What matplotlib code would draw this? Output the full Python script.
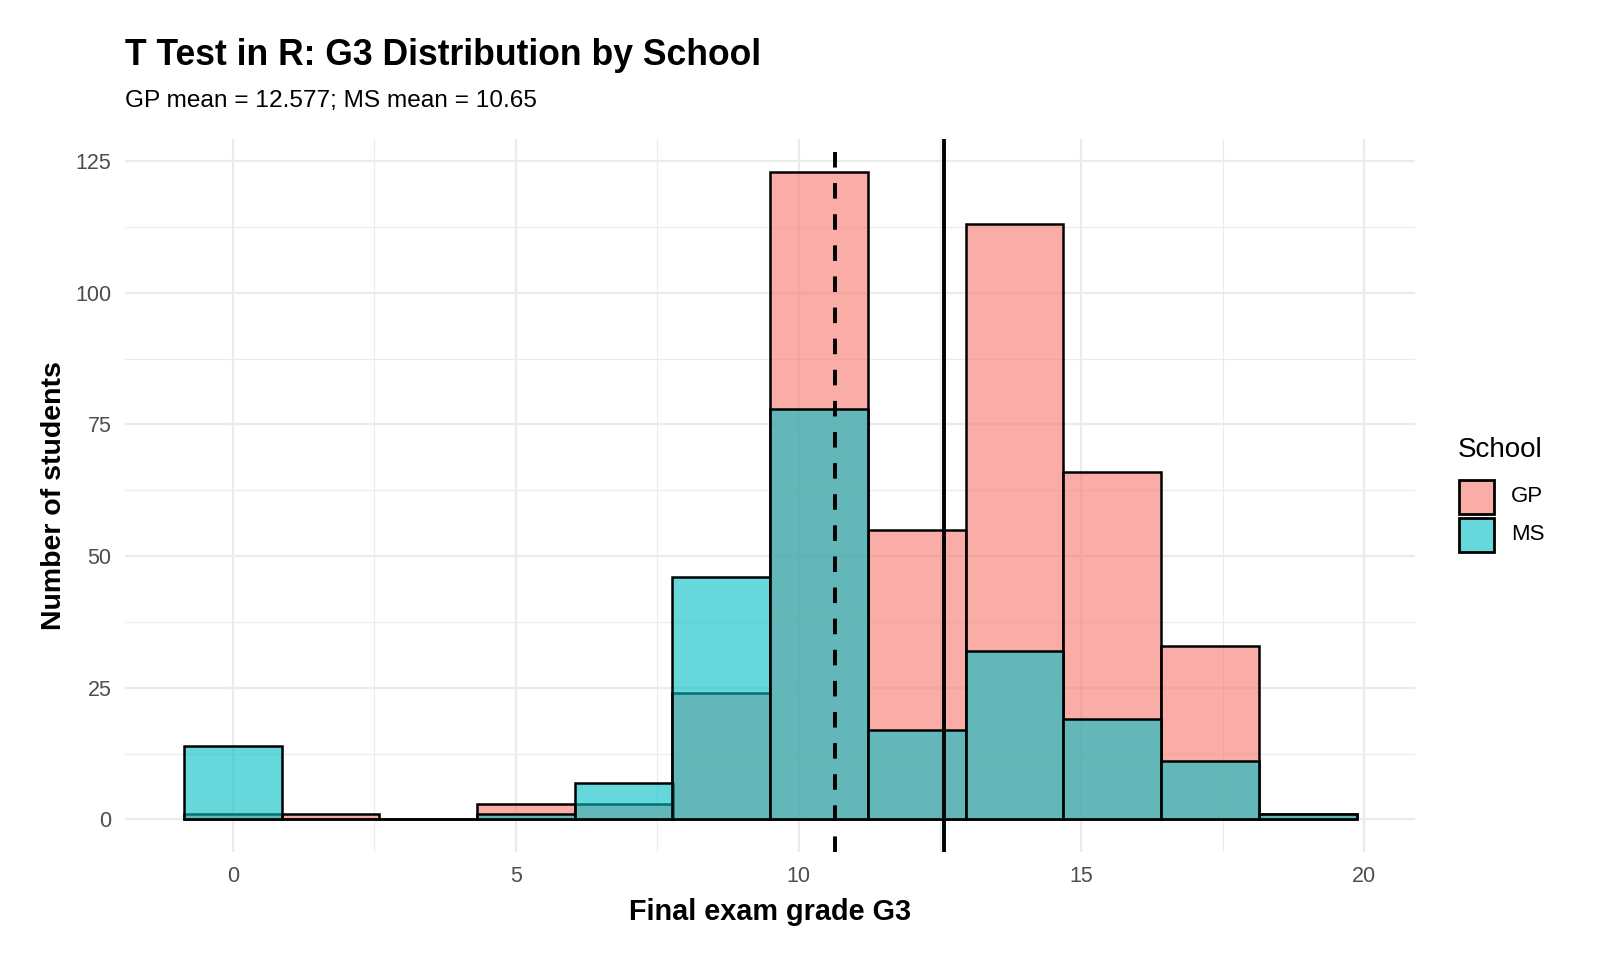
import matplotlib
matplotlib.use("Agg")
import matplotlib.pyplot as plt
from matplotlib.colors import to_rgba
from matplotlib.patches import Rectangle

# ---- data ----
bin_centers = [0.0, 1.727, 3.455, 5.182, 6.909, 8.636, 10.364, 12.091, 13.818, 15.545, 17.273, 19.0]
bin_width = 19 / 11
gp_counts = [1, 1, 0, 3, 3, 24, 123, 55, 113, 66, 33, 1]
ms_counts = [14, 0, 0, 1, 7, 46, 78, 17, 32, 19, 11, 1]
gp_mean = 12.577
ms_mean = 10.65
schools = ["GP", "MS"]
colors = {"GP": "#F8766D", "MS": "#00BFC4"}
x_ticks = [0, 5, 10, 15, 20]
y_ticks = [0, 25, 50, 75, 100, 125]

plt.rcParams["font.family"] = ["Liberation Sans", "DejaVu Sans"]

W, H = 1600, 960
fig = plt.figure(figsize=(16, 9.6), dpi=100)
ax = fig.add_axes([0.0783, 0.1127, 0.8062, 0.7422])

edge_lw = 1.8
for school, counts in zip(schools, [gp_counts, ms_counts]):
    ax.bar(bin_centers, counts, width=bin_width, align="center",
           facecolor=to_rgba(colors[school], 0.6), edgecolor="black",
           linewidth=edge_lw, zorder=3)

ax.axvline(gp_mean, color="black", linewidth=2.8, zorder=4)
ax.axvline(ms_mean, color="black", linewidth=2.8, dashes=(4, 4), zorder=4)

lo = bin_centers[0] - bin_width / 2
hi = bin_centers[-1] + bin_width / 2
rng = hi - lo
ax.set_xlim(lo - 0.05 * rng, hi + 0.05 * rng)
ymax = max(max(gp_counts), max(ms_counts))
ax.set_ylim(-0.05 * ymax, ymax * 1.05)

ax.set_xticks(x_ticks)
ax.set_yticks(y_ticks)
ax.set_xticks([2.5, 7.5, 12.5, 17.5], minor=True)
ax.set_yticks([12.5, 37.5, 62.5, 87.5, 112.5], minor=True)
ax.grid(which="major", color="#EBEBEB", linewidth=1.6, zorder=0)
ax.grid(which="minor", color="#EBEBEB", linewidth=0.8, zorder=0)
ax.set_axisbelow(True)
for s in ax.spines.values():
    s.set_visible(False)
ax.tick_params(which="both", length=0)
ax.tick_params(axis="both", labelsize=15.5, labelcolor="#4D4D4D", pad=10)

ax.set_xlabel("Final exam grade G3", fontsize=20.8, fontweight="bold", labelpad=8)
ax.set_ylabel("Number of students", fontsize=20.5, fontweight="bold", labelpad=6)

fig.text(125.5 / W, 1 - 65 / H, "T Test in R: G3 Distribution by School",
         fontsize=25.6, fontweight="bold", ha="left", va="baseline")
fig.text(125.5 / W, 1 - 107 / H, "GP mean = 12.577; MS mean = 10.65",
         fontsize=17.6, ha="left", va="baseline")

# ---- legend (drawn as ggplot-style keys) ----
fig.text(1458 / W, 1 - 450 / H, "School", fontsize=20, ha="left", va="center")
key_x, key_w, key_h = 1459, 35, 34
key_tops = [480, 518]
for school, top in zip(schools, key_tops):
    fig.patches.append(Rectangle((key_x / W, 1 - (top + key_h) / H), key_w / W, key_h / H,
                                 transform=fig.transFigure,
                                 facecolor=to_rgba(colors[school], 0.6),
                                 edgecolor="black", linewidth=2.0))
    fig.text(1511 / W, 1 - (top + key_h / 2) / H, school, fontsize=16,
             ha="left", va="center")

fig.savefig("out.png", dpi=100, facecolor="white")
